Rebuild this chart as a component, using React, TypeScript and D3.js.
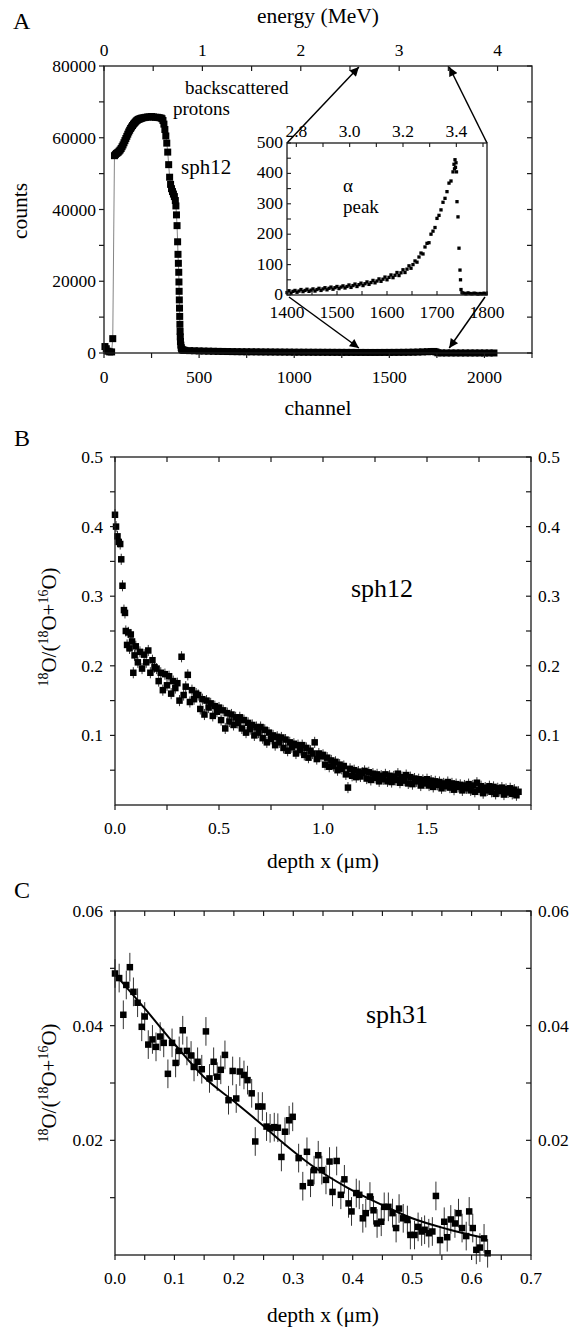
import React from 'react';
import * as d3 from 'd3';

const FONT = '"Liberation Serif", "Times New Roman", Times, serif';

// ---------- Panel A : spectrum ----------
const specChannel = [
  5, 12, 20, 30, 40, 46,
  55, 60, 65, 70, 75, 80, 85, 90, 95, 100, 105, 110, 115, 120, 125, 130, 135, 140, 145, 150,
  155, 160, 165, 170, 175, 180, 185, 190, 195, 200, 210, 220, 230, 240, 250, 260, 270, 280, 290,
  300, 305, 310, 315, 320, 325, 330, 335, 340, 345, 350, 355, 360, 365, 370, 375, 378, 381, 384,
  387, 389, 391, 393, 394, 395, 396, 397, 398, 399, 400, 401, 402, 404, 406, 408, 412, 416, 420,
  425, 450, 475, 500, 525, 550, 575, 600, 625, 650, 675, 700, 725, 750, 775, 800, 825, 850, 875,
  900, 925, 950, 975, 1000, 1025, 1050, 1075, 1100, 1125, 1150, 1175, 1200, 1225, 1250, 1275,
  1300, 1325, 1350, 1375, 1400, 1425, 1450, 1475, 1500, 1525, 1550, 1575, 1600, 1625, 1650, 1675,
  1700, 1720, 1735, 1745, 1755, 1775, 1800, 1825, 1850, 1875, 1900, 1925, 1950, 1975, 2000, 2025, 2050,
];
const specCounts = [
  1800, 1200, 500, 300, 300, 4000,
  55000, 55300, 55600, 55800, 56000, 56300, 56600, 57000, 57500, 58000, 58600, 59200, 59800, 60400,
  61000, 61600, 62100, 62600, 63000, 63400, 63800, 64100, 64400, 64700, 64900, 65100, 65200, 65300,
  65400, 65500, 65600, 65700, 65800, 65800, 65900, 65800, 65700, 65700, 65600, 65500, 65300, 64800,
  63800, 62300, 60500, 58500, 56000, 52500, 49000, 47000, 45800, 45000, 44300, 43600, 42500, 41000,
  38500, 35500, 31000, 27500, 25000, 22500, 19800, 17200, 14800, 12500, 10200, 8000, 6000, 4500,
  3200, 2200, 1500, 1100, 900, 800, 750,
  720, 660, 620, 580, 540, 510, 480, 450, 430, 410, 390, 370, 350, 340, 330, 320, 300, 290, 280,
  270, 260, 250, 240, 230, 220, 215, 210, 205, 200, 195, 190, 185, 180, 175, 170, 165, 160, 160,
  155, 150, 150, 155, 160, 165, 170, 180, 190, 205, 230, 260, 310, 360, 400, 430, 300, 60, 20, 15,
  15, 14, 13, 12, 11, 10, 10, 9, 8, 8,
];

// inset: alpha peak
const insetChannel = [
  1400, 1404, 1408, 1412, 1416, 1420, 1424, 1428, 1432, 1436, 1440, 1444, 1448, 1452, 1456, 1460,
  1464, 1468, 1472, 1476, 1480, 1484, 1488, 1492, 1496, 1500, 1504, 1508, 1512, 1516, 1520, 1524,
  1528, 1532, 1536, 1540, 1544, 1548, 1552, 1556, 1560, 1564, 1568, 1572, 1576, 1580, 1584, 1588,
  1592, 1596, 1600, 1604, 1608, 1612, 1616, 1620, 1624, 1628, 1632, 1636, 1640, 1644, 1648, 1652,
  1656, 1660, 1664, 1668, 1672, 1676, 1680, 1684, 1688, 1692, 1696, 1700, 1704, 1708, 1712, 1716,
  1720, 1724, 1728, 1732, 1734, 1735, 1736, 1737, 1738, 1739, 1740, 1742, 1744, 1746, 1747, 1748,
  1750, 1754, 1758, 1762, 1766, 1770, 1774, 1778, 1782, 1786, 1790, 1794, 1798,
];
const insetCounts = [
  8, 14, 6, 12, 15, 9, 13, 18, 11, 15, 19, 12, 16, 20, 13, 18,
  22, 15, 20, 24, 17, 22, 26, 19, 24, 28, 21, 26, 30, 23, 28, 33,
  25, 31, 36, 28, 34, 39, 31, 37, 43, 35, 41, 48, 40, 46, 53, 45,
  52, 59, 50, 58, 66, 57, 65, 74, 64, 73, 83, 74, 85, 96, 88, 100,
  112, 108, 125, 138, 135, 158, 170, 172, 200, 210, 222, 252, 262, 280, 305, 318,
  340, 368, 375, 405, 430, 415, 445, 420, 435, 405, 307, 257, 154, 82, 50, 18,
  8, 6, 4, 7, 5, 4, 6, 5, 3, 5, 4, 6, 4,
];

const countTicks = [0, 20000, 40000, 60000, 80000];
const channelTicks = [0, 500, 1000, 1500, 2000];
const energyTicks = [0, 1, 2, 3, 4];
const insetCountTicks = [0, 100, 200, 300, 400, 500];
const insetChannelTicks = [1400, 1500, 1600, 1700, 1800];
const insetEnergyTicks = [2.8, 3.0, 3.2, 3.4];
const arrowChannels = [1340, 1815];

// ---------- Panel B : sph12 profile ----------
const depthB = [
  0.0, 0.005, 0.012, 0.018, 0.025, 0.03, 0.036, 0.043, 0.048, 0.052, 0.058, 0.064, 0.07, 0.076,
  0.082, 0.088, 0.094,
  0.10, 0.11, 0.12, 0.13, 0.14, 0.15, 0.16, 0.17, 0.18, 0.19,
  0.20, 0.21, 0.22, 0.23, 0.24, 0.25, 0.26, 0.27, 0.28, 0.29,
  0.30, 0.31, 0.32, 0.33, 0.34, 0.35, 0.36, 0.37, 0.38, 0.39,
  0.40, 0.41, 0.42, 0.43, 0.44, 0.45, 0.46, 0.47, 0.48, 0.49,
  0.50, 0.51, 0.52, 0.53, 0.54, 0.55, 0.56, 0.57, 0.58, 0.59,
  0.60, 0.61, 0.62, 0.63, 0.64, 0.65, 0.66, 0.67, 0.68, 0.69,
  0.70, 0.71, 0.72, 0.73, 0.74, 0.75, 0.76, 0.77, 0.78, 0.79,
  0.80, 0.81, 0.82, 0.83, 0.84, 0.85, 0.86, 0.87, 0.88, 0.89,
  0.90, 0.91, 0.92, 0.93, 0.94, 0.95, 0.96, 0.97, 0.98, 0.99,
  1.00, 1.01, 1.02, 1.03, 1.04, 1.05, 1.06, 1.07, 1.08, 1.09,
  1.10, 1.11, 1.12, 1.13, 1.14, 1.15, 1.16, 1.17, 1.18, 1.19,
  1.20, 1.21, 1.22, 1.23, 1.24, 1.25, 1.26, 1.27, 1.28, 1.29,
  1.30, 1.31, 1.32, 1.33, 1.34, 1.35, 1.36, 1.37, 1.38, 1.39,
  1.40, 1.41, 1.42, 1.43, 1.44, 1.45, 1.46, 1.47, 1.48, 1.49,
  1.50, 1.51, 1.52, 1.53, 1.54, 1.55, 1.56, 1.57, 1.58, 1.59,
  1.60, 1.61, 1.62, 1.63, 1.64, 1.65, 1.66, 1.67, 1.68, 1.69,
  1.70, 1.71, 1.72, 1.73, 1.74, 1.75, 1.76, 1.77, 1.78, 1.79,
  1.80, 1.81, 1.82, 1.83, 1.84, 1.85, 1.86, 1.87, 1.88, 1.89,
  1.90, 1.91, 1.92, 1.93, 1.94,
];
const ratioB = [
  0.417, 0.4, 0.386, 0.378, 0.375, 0.353, 0.315, 0.28, 0.276, 0.25, 0.23, 0.248, 0.225, 0.245,
  0.235, 0.19, 0.215,
  0.228, 0.205, 0.22, 0.196, 0.216, 0.205, 0.222, 0.19, 0.208, 0.198,
  0.196, 0.178, 0.19, 0.165, 0.188, 0.172, 0.185, 0.16, 0.178, 0.168,
  0.175, 0.15, 0.213, 0.158, 0.17, 0.187, 0.148, 0.165, 0.152, 0.16,
  0.158, 0.138, 0.152, 0.13, 0.15, 0.14, 0.146, 0.128, 0.142, 0.134,
  0.14, 0.122, 0.136, 0.11, 0.132, 0.12, 0.13, 0.115, 0.126, 0.118,
  0.126, 0.11, 0.122, 0.104, 0.118, 0.109, 0.115, 0.1, 0.112, 0.104,
  0.112, 0.096, 0.108, 0.09, 0.104, 0.095, 0.1, 0.086, 0.098, 0.09,
  0.097, 0.082, 0.094, 0.078, 0.09, 0.083, 0.088, 0.074, 0.086, 0.079,
  0.086, 0.072, 0.082, 0.068, 0.078, 0.074, 0.09, 0.066, 0.074, 0.07,
  0.072, 0.058, 0.068, 0.055, 0.064, 0.056, 0.062, 0.05, 0.058, 0.052,
  0.056, 0.044, 0.025, 0.052, 0.042, 0.05, 0.04, 0.048, 0.041, 0.046,
  0.049, 0.038, 0.047, 0.036, 0.045, 0.039, 0.044, 0.034, 0.042, 0.037,
  0.044, 0.034, 0.042, 0.033, 0.041, 0.036, 0.045, 0.032, 0.04, 0.035,
  0.043, 0.031, 0.04, 0.03, 0.038, 0.034, 0.037, 0.028, 0.036, 0.031,
  0.037, 0.028, 0.035, 0.026, 0.034, 0.029, 0.033, 0.024, 0.031, 0.027,
  0.033, 0.025, 0.031, 0.022, 0.03, 0.026, 0.029, 0.021, 0.028, 0.024,
  0.03, 0.021, 0.028, 0.019, 0.032, 0.022, 0.027, 0.017, 0.025, 0.021,
  0.027, 0.019, 0.026, 0.016, 0.024, 0.02, 0.025, 0.015, 0.023, 0.018,
  0.024, 0.016, 0.022, 0.014, 0.019,
];
const errB = 0.008;
const depthTicksB = [0, 0.5, 1.0, 1.5];
const ratioTicksB = [0.1, 0.2, 0.3, 0.4, 0.5];

// ---------- Panel C : sph31 profile ----------
const depthC = [
  0.0, 0.007, 0.014, 0.019, 0.025, 0.031, 0.038, 0.045, 0.05, 0.056, 0.063, 0.069, 0.076, 0.082,
  0.089, 0.096, 0.102, 0.108, 0.114, 0.121, 0.128, 0.133, 0.139, 0.146, 0.153, 0.159, 0.166,
  0.172, 0.178, 0.185, 0.191, 0.198, 0.204, 0.21, 0.217, 0.223, 0.23, 0.236, 0.241, 0.248, 0.255,
  0.261, 0.268, 0.274, 0.28, 0.286, 0.293, 0.299, 0.309, 0.316, 0.323, 0.329, 0.335, 0.342, 0.348,
  0.355, 0.361, 0.366, 0.373, 0.38, 0.386, 0.393, 0.398, 0.406, 0.411, 0.417, 0.422, 0.429, 0.435,
  0.441, 0.448, 0.453, 0.46, 0.467, 0.473, 0.478, 0.485, 0.492, 0.497, 0.504, 0.51, 0.516, 0.521,
  0.528, 0.534, 0.54, 0.547, 0.554, 0.559, 0.565, 0.572, 0.578, 0.584, 0.591, 0.596, 0.602, 0.608,
  0.614, 0.621, 0.627,
];
const ratioC = [
  0.0491, 0.0483, 0.0419, 0.0471, 0.0502, 0.0459, 0.044, 0.0398, 0.0416, 0.0367, 0.0376, 0.0363,
  0.0381, 0.037, 0.0316, 0.037, 0.0335, 0.0356, 0.0392, 0.0356, 0.0348, 0.0328, 0.0337, 0.0324,
  0.039, 0.0308, 0.0337, 0.0311, 0.0323, 0.0349, 0.027, 0.0321, 0.0273, 0.032, 0.0314, 0.0305,
  0.0282, 0.0198, 0.0259, 0.0259, 0.0224, 0.0221, 0.0223, 0.0222, 0.0171, 0.0215, 0.0235, 0.0241,
  0.0169, 0.012, 0.018, 0.0126, 0.0148, 0.0174, 0.0148, 0.0131, 0.0163, 0.011, 0.0164, 0.0105,
  0.0132, 0.009, 0.0076, 0.0108, 0.0105, 0.0064, 0.0073, 0.0102, 0.0078, 0.0055, 0.0058, 0.0084,
  0.0084, 0.0073, 0.0047, 0.0081, 0.0064, 0.0061, 0.0035, 0.0035, 0.0049, 0.0041, 0.0044, 0.0038,
  0.0041, 0.0103, 0.0026, 0.0058, 0.0031, 0.0062, 0.0055, 0.0073, 0.0047, 0.0033, 0.0076, 0.0047,
  0.0009, 0.0013, 0.0029, 0.0003,
];
const errC = 0.0025;
const fitDepthC = [0, 0.05, 0.1, 0.15, 0.2, 0.25, 0.28, 0.33, 0.39, 0.45, 0.5, 0.56, 0.62];
const fitRatioC = [0.049, 0.043, 0.0368, 0.031, 0.0268, 0.0225, 0.0198, 0.0157, 0.0118, 0.0087, 0.0064, 0.0045, 0.003];
const depthTicksC = [0, 0.1, 0.2, 0.3, 0.4, 0.5, 0.6, 0.7];
const ratioTicksC = [0.02, 0.04, 0.06];

const AX = '#1a1a1a';
const TICK_FS = 17.5;

function Sq({ x, y, s }: { x: number; y: number; s: number }) {
  return <rect x={x - s / 2} y={y - s / 2} width={s} height={s} fill="#000" />;
}

function RatioLabel({ x, y }: { x: number; y: number }) {
  return (
    <text transform={`translate(${x},${y}) rotate(-90)`} textAnchor="middle" fontSize={21} fontFamily={FONT}>
      <tspan fontSize={14} dy={-8}>18</tspan>
      <tspan dy={8}>O/(</tspan>
      <tspan fontSize={14} dy={-8}>18</tspan>
      <tspan dy={8}>O+</tspan>
      <tspan fontSize={14} dy={-8}>16</tspan>
      <tspan dy={8}>O)</tspan>
    </text>
  );
}

function ProfilePanel(props: {
  xs: d3.ScaleLinear<number, number>;
  ys: d3.ScaleLinear<number, number>;
  depth: number[];
  ratio: number[];
  err: number;
  xMinor: number[];
  xLabels: number[];
  yMinor: number[];
  yLabels: number[];
  yFmt: (v: number) => string;
  label: string;
  labelX: number;
  labelY: number;
  fit?: [number[], number[]];
}) {
  const { xs, ys } = props;
  const [x0, x1] = xs.range();
  const [y0, y1] = ys.range(); // y0 bottom, y1 top
  const line = d3
    .line<number>()
    .x((_, i) => xs(props.fit ? props.fit[0][i] : 0))
    .y((d) => ys(d))
    .curve(d3.curveMonotoneX);
  return (
    <g>
      {props.depth.map((d, i) => (
        <line
          key={'e' + i}
          x1={xs(d)}
          x2={xs(d)}
          y1={ys(props.ratio[i] - props.err)}
          y2={ys(props.ratio[i] + props.err)}
          stroke="#333"
          strokeWidth={1}
        />
      ))}
      {props.depth.map((d, i) => (
        <Sq key={'p' + i} x={xs(d)} y={ys(props.ratio[i])} s={6.5} />
      ))}
      {props.fit && <path d={line(props.fit[1]) || ''} fill="none" stroke="#000" strokeWidth={2} />}
      <rect x={x0} y={y1} width={x1 - x0} height={y0 - y1} fill="none" stroke={AX} strokeWidth={1.3} />
      {props.xMinor.map((t, i) => (
        <g key={'xt' + i}>
          <line x1={xs(t)} x2={xs(t)} y1={y0} y2={y0 + 5} stroke={AX} strokeWidth={1.2} />
          <line x1={xs(t)} x2={xs(t)} y1={y1} y2={y1 + 5} stroke={AX} strokeWidth={1.2} />
        </g>
      ))}
      {props.yMinor.map((t, i) => (
        <g key={'yt' + i}>
          <line x1={x0 - 5} x2={x0} y1={ys(t)} y2={ys(t)} stroke={AX} strokeWidth={1.2} />
          <line x1={x1 - 5} x2={x1} y1={ys(t)} y2={ys(t)} stroke={AX} strokeWidth={1.2} />
        </g>
      ))}
      {props.xLabels.map((t, i) => (
        <text key={'xl' + i} x={xs(t)} y={y0 + 29} textAnchor="middle" fontSize={TICK_FS} fontFamily={FONT}>
          {t.toFixed(1)}
        </text>
      ))}
      {props.yLabels.map((t, i) => (
        <g key={'yl' + i}>
          <text x={x0 - 12} y={ys(t) + 6} textAnchor="end" fontSize={TICK_FS} fontFamily={FONT}>
            {props.yFmt(t)}
          </text>
          <text x={x1 + 7} y={ys(t) + 6} textAnchor="start" fontSize={TICK_FS} fontFamily={FONT}>
            {props.yFmt(t)}
          </text>
        </g>
      ))}
      <text x={props.labelX} y={props.labelY} textAnchor="middle" fontSize={26} fontFamily={FONT}>
        {props.label}
      </text>
    </g>
  );
}

export default function App() {
  // Panel A scales
  const ax = d3.scaleLinear().domain([0, 2250]).range([104, 532]);
  const ay = d3.scaleLinear().domain([0, 80000]).range([353, 66]);
  const ae = d3.scaleLinear().domain([0, 4.35]).range([104, 532]);
  const ix = d3.scaleLinear().domain([1400, 1800]).range([287, 487]);
  const iy = d3.scaleLinear().domain([0, 500]).range([295, 143]);
  const ie = d3.scaleLinear().domain([2.765, 3.515]).range([287, 487]);
  // Panel B
  const bx = d3.scaleLinear().domain([0, 2]).range([115, 531]);
  const by = d3.scaleLinear().domain([0, 0.5]).range([805, 457]);
  // Panel C
  const cx = d3.scaleLinear().domain([0, 0.7]).range([115, 531]);
  const cy = d3.scaleLinear().domain([0, 0.06]).range([1255, 911]);

  const specLine = d3
    .line<number>()
    .x((d) => ax(d))
    .y((_, i) => ay(specCounts[i]));

  const aL = 104, aR = 532, aT = 66, aB = 353;
  const iL = 287, iR = 487, iT = 143, iB = 295;

  const countMinor = d3.range(0, 80001, 10000);
  const channelMinor = d3.range(0, 2251, 250);
  const energyMinor = d3.range(0, 4.31, 0.5);
  const insetCountMinor = d3.range(0, 501, 50);
  const insetChannelMinor = d3.range(1400, 1801, 50);
  const insetEnergyMinor = [2.8, 2.9, 3.0, 3.1, 3.2, 3.3, 3.4, 3.5];

  const tf = (v: number) => String(v);

  return (
    <svg
      width={581}
      height={1328}
      viewBox="0 0 581 1328"
      style={{ position: 'absolute', left: 0, top: 0, background: '#fff' }}
      fontFamily={FONT}
    >
      <defs>
        <marker id="ah" viewBox="0 0 10 10" refX="10" refY="5" markerWidth="11" markerHeight="9" orient="auto" markerUnits="userSpaceOnUse">
          <path d="M0,0 L10,5 L0,10 z" fill="#000" />
        </marker>
      </defs>
      <rect x={0} y={0} width={581} height={1328} fill="#fff" />

      {/* ================= Panel A ================= */}
      <text x={13} y={29} fontSize={24} fontFamily={FONT}>A</text>
      <text x={(aL + aR) / 2} y={23} textAnchor="middle" fontSize={21.5} fontFamily={FONT}>energy (MeV)</text>
      <text transform={`translate(27,211) rotate(-90)`} textAnchor="middle" fontSize={21.5} fontFamily={FONT}>counts</text>
      <text x={(aL + aR) / 2} y={415} textAnchor="middle" fontSize={21.5} fontFamily={FONT}>channel</text>

      {/* spectrum */}
      <path d={specLine(specChannel) || ''} fill="none" stroke="#777" strokeWidth={0.9} />
      {specChannel.map((c, i) => (
        <Sq key={'s' + i} x={ax(c)} y={ay(specCounts[i])} s={7} />
      ))}

      {/* frame A */}
      <rect x={aL} y={aT} width={aR - aL} height={aB - aT} fill="none" stroke={AX} strokeWidth={1.3} />
      {countMinor.map((t, i) => (
        <g key={'ct' + i}>
          <line x1={aL - 5} x2={aL} y1={ay(t)} y2={ay(t)} stroke={AX} strokeWidth={1.2} />
          <line x1={aR - 5} x2={aR} y1={ay(t)} y2={ay(t)} stroke={AX} strokeWidth={1.2} />
        </g>
      ))}
      {countTicks.map((t, i) => (
        <text key={'cl' + i} x={96} y={ay(t) + 6} textAnchor="end" fontSize={TICK_FS} fontFamily={FONT}>
          {tf(t)}
        </text>
      ))}
      {channelMinor.map((t, i) => (
        <line key={'cht' + i} x1={ax(t)} x2={ax(t)} y1={aB} y2={aB + 5} stroke={AX} strokeWidth={1.2} />
      ))}
      {channelTicks.map((t, i) => (
        <text key={'chl' + i} x={ax(t)} y={383} textAnchor="middle" fontSize={TICK_FS} fontFamily={FONT}>
          {tf(t)}
        </text>
      ))}
      {energyMinor.map((t, i) => (
        <line key={'et' + i} x1={ae(t)} x2={ae(t)} y1={aT} y2={aT + 5} stroke={AX} strokeWidth={1.2} />
      ))}
      {energyTicks.map((t, i) => (
        <text key={'el' + i} x={ae(t)} y={56} textAnchor="middle" fontSize={TICK_FS} fontFamily={FONT}>
          {tf(t)}
        </text>
      ))}

      <text x={185} y={94} fontSize={19} fontFamily={FONT}>backscattered</text>
      <text x={173} y={115} fontSize={19} fontFamily={FONT}>protons</text>
      <text x={181} y={174} fontSize={21} fontFamily={FONT}>sph12</text>

      {/* arrows */}
      <line x1={iL} y1={iT} x2={ax(arrowChannels[0])} y2={aT + 1} stroke="#000" strokeWidth={1.5} markerEnd="url(#ah)" />
      <line x1={iR} y1={iT} x2={ax(arrowChannels[1])} y2={aT + 1} stroke="#000" strokeWidth={1.5} markerEnd="url(#ah)" />
      <line x1={iL + 2} y1={iB + 2} x2={ax(arrowChannels[0])} y2={aB - 5} stroke="#000" strokeWidth={1.5} markerEnd="url(#ah)" />
      <line x1={iR - 2} y1={iB + 2} x2={ax(arrowChannels[1])} y2={aB - 5} stroke="#000" strokeWidth={1.5} markerEnd="url(#ah)" />

      {/* inset */}
      <rect x={iL} y={iT} width={iR - iL} height={iB - iT} fill="#fff" />
      {insetChannel.map((c, i) => (
        <Sq key={'in' + i} x={ix(c)} y={iy(insetCounts[i])} s={3.3} />
      ))}
      <rect x={iL} y={iT} width={iR - iL} height={iB - iT} fill="none" stroke={AX} strokeWidth={1.3} />
      {insetCountMinor.map((t, i) => (
        <line key={'ict' + i} x1={iL} x2={iL + 4} y1={iy(t)} y2={iy(t)} stroke={AX} strokeWidth={1.1} />
      ))}
      {insetChannelMinor.map((t, i) => (
        <line key={'icht' + i} x1={ix(t)} x2={ix(t)} y1={iB} y2={iB - 4} stroke={AX} strokeWidth={1.1} />
      ))}
      {insetEnergyMinor.map((t, i) => (
        <line key={'iet' + i} x1={ie(t)} x2={ie(t)} y1={iT} y2={iT + 4} stroke={AX} strokeWidth={1.1} />
      ))}
      {insetCountTicks.map((t, i) => (
        <text key={'icl' + i} x={iL - 4} y={iy(t) + 5} textAnchor="end" fontSize={TICK_FS} fontFamily={FONT}>
          {tf(t)}
        </text>
      ))}
      {insetChannelTicks.map((t, i) => (
        <text key={'ichl' + i} x={ix(t)} y={318} textAnchor="middle" fontSize={TICK_FS} fontFamily={FONT}>
          {tf(t)}
        </text>
      ))}
      {insetEnergyTicks.map((t, i) => (
        <text key={'iel' + i} x={ie(t)} y={137} textAnchor="middle" fontSize={TICK_FS} fontFamily={FONT}>
          {t.toFixed(1)}
        </text>
      ))}
      <text x={343} y={192} fontSize={19} fontFamily={FONT}>α</text>
      <text x={343} y={213} fontSize={19} fontFamily={FONT}>peak</text>

      {/* ================= Panel B ================= */}
      <text x={14} y={446} fontSize={24} fontFamily={FONT}>B</text>
      <ProfilePanel
        xs={bx}
        ys={by}
        depth={depthB}
        ratio={ratioB}
        err={errB}
        xMinor={d3.range(0, 2.01, 0.25)}
        xLabels={depthTicksB}
        yMinor={d3.range(0.05, 0.501, 0.05)}
        yLabels={ratioTicksB}
        yFmt={(v) => v.toFixed(1)}
        label="sph12"
        labelX={382}
        labelY={597}
      />
      <RatioLabel x={56} y={627} />
      <text x={323} y={868} textAnchor="middle" fontSize={21.5} fontFamily={FONT}>depth x (μm)</text>

      {/* ================= Panel C ================= */}
      <text x={14} y={898} fontSize={24} fontFamily={FONT}>C</text>
      <ProfilePanel
        xs={cx}
        ys={cy}
        depth={depthC}
        ratio={ratioC}
        err={errC}
        xMinor={d3.range(0, 0.701, 0.05)}
        xLabels={depthTicksC}
        yMinor={d3.range(0.01, 0.0601, 0.01)}
        yLabels={ratioTicksC}
        yFmt={(v) => v.toFixed(2)}
        label="sph31"
        labelX={397}
        labelY={1023}
        fit={[fitDepthC, fitRatioC]}
      />
      <RatioLabel x={56} y={1083} />
      <text x={323} y={1322} textAnchor="middle" fontSize={21.5} fontFamily={FONT}>depth x (μm)</text>
    </svg>
  );
}
